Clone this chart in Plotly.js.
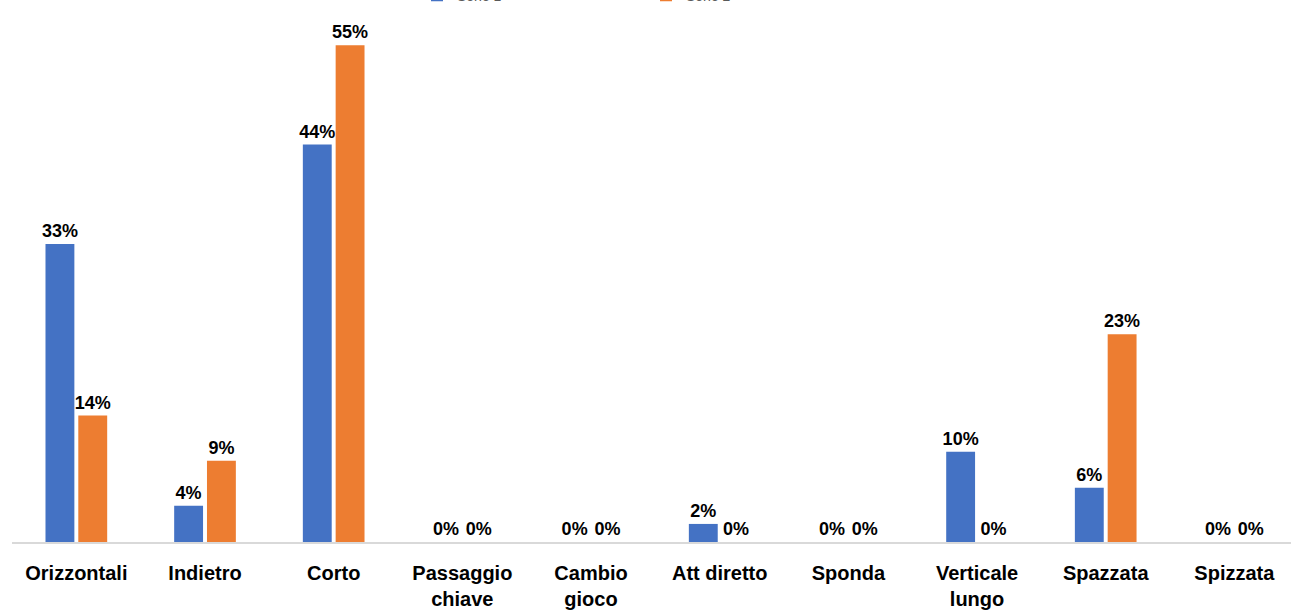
<!DOCTYPE html>
<html>
<head>
<meta charset="utf-8">
<script src="https://cdn.plot.ly/plotly-3.0.1.min.js"></script>
<style>html,body{margin:0;padding:0;background:#fff;}#chart{width:1291px;height:610px;}</style>
</head>
<body>
<div id="chart"></div>
<script>
const categories = ["Orizzontali","Indietro","Corto","Passaggio<br>chiave","Cambio<br>gioco","Att diretto","Sponda","Verticale<br>lungo","Spazzata","Spizzata"];
const series1Name = "Serie 1";
const series2Name = "Serie 2";
const series1 = [33, 4, 44, 0, 0, 2, 0, 10, 6, 0];
const series2 = [14, 9, 55, 0, 0, 0, 0, 0, 23, 0];

const labelFont = {family: "Liberation Sans, Arial, sans-serif", size: 18, color: "#000"};
function trace(name, vals, color) {
  return {
    type: "bar", name: name, x: categories, y: vals,
    marker: {color: color},
    text: vals.map(v => "<b>" + v + "%</b>"),
    textposition: "outside", textfont: labelFont,
    constraintext: "none",
    cliponaxis: false, hoverinfo: "skip"
  };
}
const data = [trace(series1Name, series1, "#4472C4"), trace(series2Name, series2, "#ED7D31")];
const layout = {
  width: 1291, height: 610,
  margin: {l: 12, r: 0, t: 0, b: 68, autoexpand: false},
  paper_bgcolor: "#fff", plot_bgcolor: "#fff",
  barmode: "group", bargap: 0.49, bargroupgap: 0.12,
  showlegend: true,
  legend: {orientation: "h", x: (417 - 12) / 1279, xanchor: "left", y: 1.0080, yanchor: "middle",
           entrywidth: 184, entrywidthmode: "pixels",
           font: {family: "Liberation Sans, Arial, sans-serif", size: 14, color: "#595959"}},
  xaxis: {
    type: "category", range: [-0.5, 9.44], showgrid: false, zeroline: false,
    showline: true, linecolor: "#d9d9d9", linewidth: 1.5, ticks: "",
    ticklabelstandoff: 12,
    tickfont: {family: "Liberation Sans, Arial, sans-serif", size: 20, color: "#000", weight: "bold"}
  },
  yaxis: {range: [0, 60], visible: false, showgrid: false, zeroline: false, fixedrange: true},
  font: {family: "Liberation Sans, Arial, sans-serif"}
};
Plotly.newPlot("chart", data, layout, {displayModeBar: false, staticPlot: true});
</script>
</body>
</html>
